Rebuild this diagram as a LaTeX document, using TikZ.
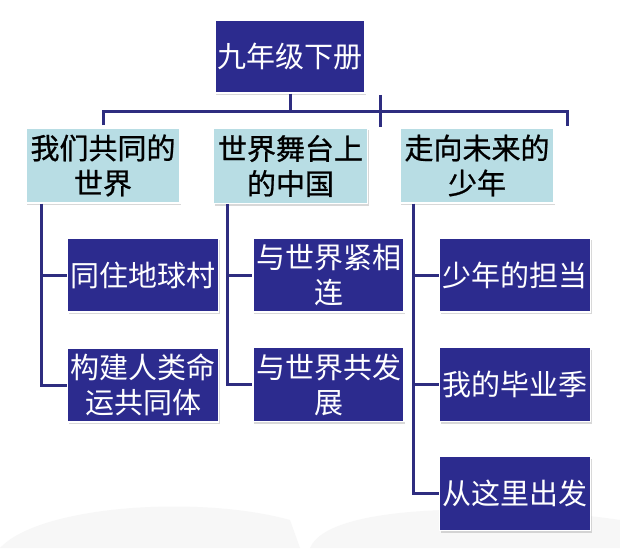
\documentclass[tikz,border=0pt]{standalone}
\usepackage{fontspec}
\setmainfont{Noto Sans CJK SC}
\newfontfamily\unitfont{Noto Sans CJK SC}[FakeBold=0.8]
\usetikzlibrary{shadows}
\definecolor{navy}{RGB}{44,43,142}
\definecolor{barblue}{RGB}{46,45,128}
\definecolor{paleblue}{RGB}{184,221,228}
\tikzset{
  treenode/.style = {align=center, inner sep=0pt, text centered,
    font=\fontsize{29}{35}\selectfont},
  kb_root/.style = {treenode, rectangle, white, fill=navy, draw=white,
    line width=1.5pt, minimum width=150pt, minimum height=73pt,
    drop shadow={opacity=0.3, shadow xshift=1pt, shadow yshift=-2pt}},% book
  kb_unit/.style = {treenode, rectangle, black, fill=paleblue, draw=white,
    font=\fontsize{29}{35}\selectfont\unitfont,
    line width=1.5pt, minimum width=154pt, minimum height=75pt,
    drop shadow={opacity=0.3, shadow xshift=1pt, shadow yshift=-2pt}},% unit
  kb_lesson/.style = {treenode, rectangle, white, fill=navy, draw=white,
    line width=1.5pt, minimum width=151pt, minimum height=74pt,
    drop shadow={opacity=0.3, shadow xshift=1pt, shadow yshift=-2pt}},% lesson
  bar/.style = {draw=barblue, line width=3pt},
}
\begin{document}
\begin{tikzpicture}[x=1pt,y=-1pt]
  \useasboundingbox[fill=white] (0,0) rectangle (620,548);
  % faint book in the background
  \fill[black!3] (0,548) .. controls (40,505) and (200,495) .. (290,520) -- (300,548) -- cycle;
  \fill[black!3] (310,548) .. controls (330,500) and (520,505) .. (620,520) -- (620,548) -- cycle;

  \node[kb_root] (root) at (290,56.5) {九年级下册};

  \node[kb_unit] (w1) at (103,165.5) {我们共同的\\世界};
  \node[kb_unit] (w2) at (290.5,166) {世界舞台上\\的中国};
  \node[kb_unit] (w3) at (477,165.5) {走向未来的\\少年};

  \node[kb_lesson] (w1a) at (143,275) {同住地球村};
  \node[kb_lesson] (w1b) at (143,385) {构建人类命\\运共同体};
  \node[kb_lesson] (w2a) at (328.5,275) {与世界紧相\\连};
  \node[kb_lesson] (w2b) at (328.5,384.5) {与世界共发\\展};
  \node[kb_lesson] (w3a) at (515,275) {少年的担当};
  \node[kb_lesson] (w3b) at (515,384.5) {我的毕业季};
  \node[kb_lesson] (w3c) at (515,493.5) {从这里出发};

  \coordinate (barR) at (567,112);
  \coordinate (stray) at (380,95);

  %   top bar
  \draw[bar] (root.south) -- (root.south |- barR);
  \draw[bar] ([yshift=2pt]w1.north) |- (barR) -- ++(0,14);
  \draw[bar] (stray) -- ++(0,32);
  %   unit 1
  \draw[bar] ([xshift=16pt]w1.south west) |- (w1a.west);
  \draw[bar] ([xshift=16pt]w1.south west) |- (w1b.west);
  %   unit 2
  \draw[bar] ([xshift=15pt]w2.south west) |- (w2a.west);
  \draw[bar] ([xshift=15pt]w2.south west) |- (w2b.west);
  %   unit 3
  \draw[bar] ([xshift=14pt]w3.south west) |- (w3a.west);
  \draw[bar] ([xshift=14pt]w3.south west) |- (w3b.west);
  \draw[bar] ([xshift=14pt]w3.south west) |- (w3c.west);
\end{tikzpicture}
\end{document}
